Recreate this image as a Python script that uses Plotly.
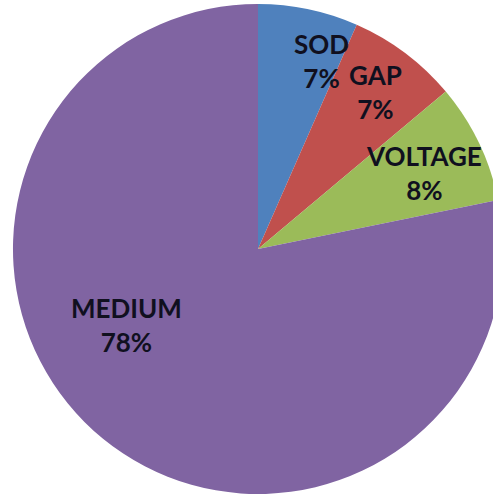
import plotly.graph_objects as go

labels = ["SOD", "GAP", "VOLTAGE", "MEDIUM"]
values = [6.6, 7.3, 7.9, 78.2]
colors = ["#4F81BD", "#C0504D", "#9BBB59", "#8064A2"]

W, H = 516, 494
# label block centres in pixels (layout only)
label_px = [(321, 61), (375, 92), (424, 173), (126, 325)]

total = sum(values)
texts = [f"{l}<br>{round(v / total * 100)}%" for l, v in zip(labels, values)]

fig = go.Figure(go.Pie(
    labels=labels, values=values, sort=False, direction="clockwise", rotation=0,
    marker=dict(colors=colors, line=dict(width=0)),
    textinfo="none", hoverinfo="label+percent", showlegend=False,
    domain=dict(x=[0, 1], y=[0, 0.992]),
))

for t, (px, py) in zip(texts, label_px):
    fig.add_annotation(
        x=px / W, y=1 - py / H, xref="paper", yref="paper", text=t, showarrow=False,
        font=dict(family="Lato", size=26, color="#10101f", weight="bold"),
        xanchor="center", yanchor="middle", align="center",
    )

fig.update_layout(
    width=W, height=H, autosize=False,
    margin=dict(l=0, r=0, t=0, b=0),
    paper_bgcolor="white", plot_bgcolor="white",
)

fig.write_html("out.html", post_script="document.body.style.overflow='hidden';document.documentElement.style.overflow='hidden';")
